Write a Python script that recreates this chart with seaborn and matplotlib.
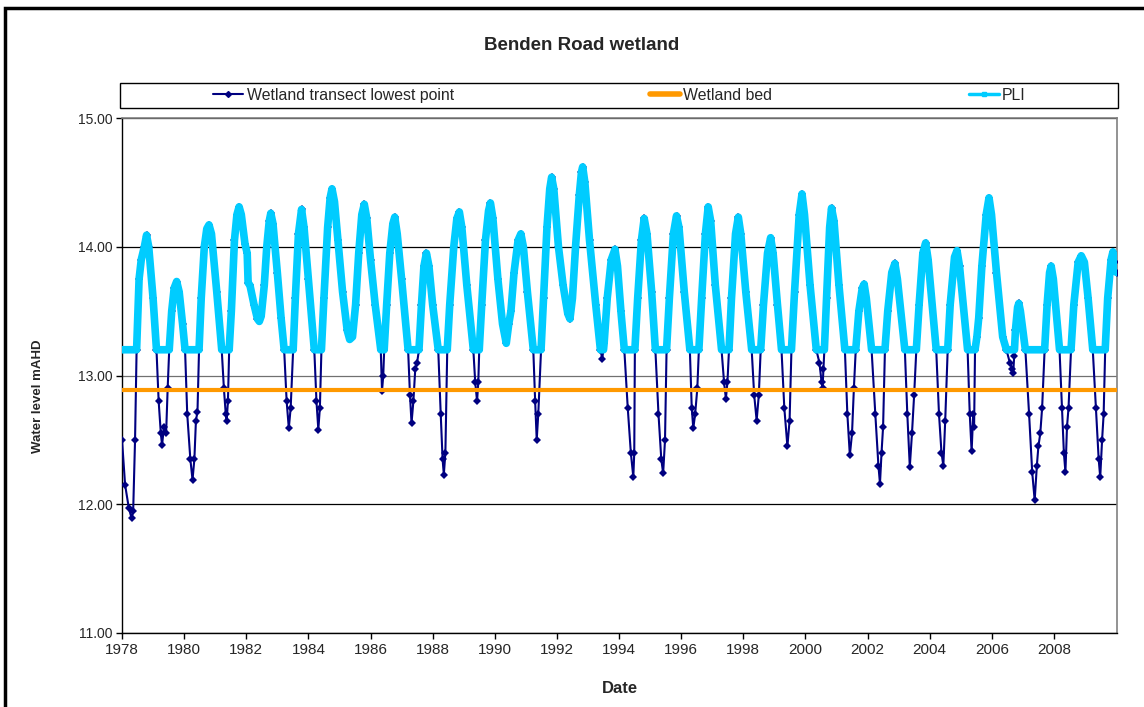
import numpy as np
import pandas as pd
import seaborn as sns
import matplotlib.pyplot as plt
from matplotlib.lines import Line2D
from matplotlib.patches import Rectangle
from matplotlib.ticker import FormatStrFormatter

# Wetland transect lowest point (decimal year, mAHD)
level_points = [
    (1978.00, 12.50), (1978.10, 12.15), (1978.22, 11.97), (1978.31, 11.89), (1978.36, 11.95), (1978.42, 12.50),
    (1978.47, 13.20), (1978.55, 13.75), (1978.62, 13.90), (1978.72, 14.00), (1978.79, 14.09), (1978.86, 14.00), (1979.00, 13.60),
    (1979.11, 13.20), (1979.18, 12.80), (1979.25, 12.55), (1979.29, 12.46), (1979.35, 12.60), (1979.42, 12.55), (1979.47, 12.90),
    (1979.52, 13.20), (1979.60, 13.50), (1979.68, 13.68), (1979.76, 13.73), (1979.84, 13.65), (1979.95, 13.40),
    (1980.03, 13.20), (1980.10, 12.70), (1980.20, 12.35), (1980.27, 12.19), (1980.33, 12.35), (1980.38, 12.65), (1980.43, 12.72),
    (1980.48, 13.20), (1980.55, 13.60), (1980.65, 14.00), (1980.73, 14.14), (1980.80, 14.17), (1980.88, 14.10), (1981.05, 13.65),
    (1981.21, 13.20), (1981.28, 12.90), (1981.34, 12.70), (1981.37, 12.65), (1981.41, 12.80),
    (1981.45, 13.20), (1981.52, 13.50), (1981.62, 14.05), (1981.70, 14.25), (1981.77, 14.31), (1981.84, 14.25), (1981.96, 14.02),
    (1982.03, 13.95), (1982.06, 13.72), (1982.12, 13.70), (1982.25, 13.55), (1982.36, 13.44), (1982.42, 13.42), (1982.48, 13.46),
    (1982.58, 13.70), (1982.66, 14.00), (1982.74, 14.20), (1982.79, 14.26), (1982.86, 14.18), (1983.00, 13.80), (1983.12, 13.45),
    (1983.22, 13.20), (1983.30, 12.80), (1983.37, 12.59), (1983.43, 12.75),
    (1983.51, 13.20), (1983.58, 13.60), (1983.68, 14.10), (1983.78, 14.29), (1983.86, 14.15), (1984.00, 13.75),
    (1984.19, 13.20), (1984.26, 12.80), (1984.32, 12.58), (1984.37, 12.75),
    (1984.42, 13.20), (1984.50, 13.60), (1984.62, 14.15), (1984.70, 14.38), (1984.76, 14.45), (1984.84, 14.35), (1984.95, 14.05),
    (1985.10, 13.65), (1985.25, 13.35), (1985.33, 13.28), (1985.42, 13.30), (1985.52, 13.55), (1985.62, 13.95), (1985.72, 14.25),
    (1985.80, 14.33), (1985.88, 14.22), (1986.00, 13.90), (1986.15, 13.55),
    (1986.33, 13.20), (1986.37, 12.88), (1986.41, 13.00),
    (1986.44, 13.20), (1986.52, 13.55), (1986.62, 13.95), (1986.72, 14.18), (1986.78, 14.23), (1986.86, 14.10), (1987.00, 13.75),
    (1987.21, 13.20), (1987.27, 12.85), (1987.32, 12.63), (1987.38, 12.80), (1987.44, 13.05), (1987.50, 13.10),
    (1987.56, 13.20), (1987.64, 13.55), (1987.72, 13.85), (1987.80, 13.95), (1987.88, 13.85), (1988.00, 13.55),
    (1988.18, 13.20), (1988.26, 12.70), (1988.32, 12.35), (1988.36, 12.23), (1988.41, 12.40),
    (1988.47, 13.20), (1988.55, 13.55), (1988.68, 14.00), (1988.78, 14.22), (1988.86, 14.27), (1988.94, 14.15), (1989.10, 13.70),
    (1989.31, 13.20), (1989.37, 12.95), (1989.43, 12.80), (1989.47, 12.95),
    (1989.50, 13.20), (1989.58, 13.55), (1989.70, 14.05), (1989.80, 14.28), (1989.86, 14.34), (1989.94, 14.22), (1990.10, 13.75),
    (1990.25, 13.40), (1990.37, 13.25), (1990.45, 13.40), (1990.52, 13.50), (1990.62, 13.80), (1990.75, 14.05), (1990.84, 14.10),
    (1990.92, 14.00), (1991.05, 13.65),
    (1991.24, 13.20), (1991.30, 12.80), (1991.35, 12.50), (1991.40, 12.70),
    (1991.49, 13.20), (1991.57, 13.60), (1991.68, 14.15), (1991.77, 14.45), (1991.83, 14.54), (1991.90, 14.45), (1992.05, 14.00),
    (1992.20, 13.70), (1992.35, 13.48), (1992.42, 13.44), (1992.50, 13.60), (1992.60, 14.00), (1992.72, 14.40), (1992.79, 14.58),
    (1992.83, 14.62), (1992.90, 14.50), (1993.05, 14.05), (1993.25, 13.55),
    (1993.40, 13.20), (1993.46, 13.13),
    (1993.52, 13.25), (1993.62, 13.60), (1993.75, 13.90), (1993.87, 13.98), (1993.95, 13.85), (1994.06, 13.50),
    (1994.17, 13.20), (1994.28, 12.75), (1994.38, 12.40), (1994.46, 12.21), (1994.49, 12.40),
    (1994.51, 13.20), (1994.60, 13.60), (1994.72, 14.05), (1994.81, 14.22), (1994.90, 14.10), (1995.05, 13.65),
    (1995.17, 13.20), (1995.27, 12.70), (1995.36, 12.35), (1995.42, 12.24), (1995.48, 12.50),
    (1995.53, 13.20), (1995.62, 13.60), (1995.75, 14.10), (1995.85, 14.24), (1995.93, 14.15), (1996.10, 13.65),
    (1996.28, 13.20), (1996.34, 12.75), (1996.39, 12.59), (1996.45, 12.70), (1996.52, 12.90),
    (1996.57, 13.20), (1996.66, 13.60), (1996.78, 14.10), (1996.87, 14.31), (1996.95, 14.20), (1997.10, 13.70),
    (1997.30, 13.20), (1997.38, 12.95), (1997.44, 12.82), (1997.49, 12.95),
    (1997.54, 13.20), (1997.62, 13.60), (1997.75, 14.10), (1997.84, 14.23), (1997.92, 14.10), (1998.08, 13.65),
    (1998.27, 13.20), (1998.35, 12.85), (1998.43, 12.65), (1998.50, 12.85),
    (1998.56, 13.20), (1998.65, 13.55), (1998.78, 13.95), (1998.88, 14.07), (1998.96, 13.95), (1999.10, 13.55),
    (1999.23, 13.20), (1999.32, 12.75), (1999.42, 12.45), (1999.49, 12.65),
    (1999.55, 13.20), (1999.65, 13.65), (1999.80, 14.25), (1999.89, 14.41), (1999.97, 14.25), (2000.15, 13.70),
    (2000.35, 13.20), (2000.45, 13.10), (2000.52, 12.95), (2000.55, 12.90), (2000.58, 13.05),
    (2000.61, 13.20), (2000.68, 13.60), (2000.78, 14.15), (2000.84, 14.30), (2000.92, 14.20), (2001.08, 13.70),
    (2001.27, 13.20), (2001.35, 12.70), (2001.43, 12.38), (2001.50, 12.55), (2001.56, 12.90),
    (2001.62, 13.20), (2001.72, 13.50), (2001.83, 13.68), (2001.89, 13.71), (2001.96, 13.60),
    (2002.13, 13.20), (2002.25, 12.70), (2002.35, 12.30), (2002.40, 12.16), (2002.45, 12.40), (2002.50, 12.60),
    (2002.56, 13.20), (2002.65, 13.50), (2002.78, 13.80), (2002.88, 13.87), (2002.96, 13.75),
    (2003.20, 13.20), (2003.28, 12.70), (2003.36, 12.29), (2003.43, 12.55), (2003.50, 12.85),
    (2003.57, 13.20), (2003.66, 13.55), (2003.78, 13.95), (2003.87, 14.03), (2003.95, 13.90),
    (2004.21, 13.20), (2004.30, 12.70), (2004.38, 12.40), (2004.44, 12.30), (2004.50, 12.65),
    (2004.58, 13.20), (2004.66, 13.55), (2004.80, 13.92), (2004.88, 13.97), (2004.96, 13.85),
    (2005.22, 13.20), (2005.29, 12.70), (2005.35, 12.41), (2005.40, 12.70), (2005.43, 12.60),
    (2005.46, 13.20), (2005.52, 13.30), (2005.58, 13.45), (2005.68, 13.85), (2005.82, 14.25), (2005.91, 14.38), (2005.99, 14.25),
    (2006.15, 13.80), (2006.35, 13.30),
    (2006.47, 13.20), (2006.58, 13.10), (2006.66, 13.05), (2006.69, 13.02), (2006.72, 13.15),
    (2006.76, 13.35), (2006.83, 13.53), (2006.87, 13.56), (2006.92, 13.50),
    (2007.08, 13.20), (2007.20, 12.70), (2007.30, 12.25), (2007.38, 12.03), (2007.45, 12.30), (2007.50, 12.45), (2007.56, 12.55),
    (2007.62, 12.75),
    (2007.70, 13.20), (2007.78, 13.55), (2007.86, 13.80), (2007.91, 13.85), (2007.98, 13.75),
    (2008.18, 13.20), (2008.26, 12.75), (2008.32, 12.40), (2008.37, 12.25), (2008.42, 12.60), (2008.47, 12.75),
    (2008.55, 13.20), (2008.64, 13.55), (2008.78, 13.88), (2008.88, 13.93), (2008.98, 13.88), (2009.10, 13.60),
    (2009.25, 13.20), (2009.35, 12.75), (2009.44, 12.35), (2009.49, 12.21), (2009.55, 12.50), (2009.60, 12.70),
    (2009.65, 13.20), (2009.73, 13.60), (2009.84, 13.90), (2009.90, 13.96), (2009.96, 13.88), (2010.02, 13.80),
]

# PLI (decimal year, mAHD) - sits flat at 13.20 through the dry months
pli_points = [
    (1978.00, 13.20),
    (1978.47, 13.20), (1978.55, 13.75), (1978.62, 13.90), (1978.72, 14.00), (1978.79, 14.09), (1978.86, 14.00), (1979.00, 13.60),
    (1979.11, 13.20),
    (1979.52, 13.20), (1979.60, 13.50), (1979.68, 13.68), (1979.76, 13.73), (1979.84, 13.65), (1979.95, 13.40),
    (1980.03, 13.20),
    (1980.48, 13.20), (1980.55, 13.60), (1980.65, 14.00), (1980.73, 14.14), (1980.80, 14.17), (1980.88, 14.10), (1981.05, 13.65),
    (1981.21, 13.20),
    (1981.45, 13.20), (1981.52, 13.50), (1981.62, 14.05), (1981.70, 14.25), (1981.77, 14.31), (1981.84, 14.25), (1981.96, 14.02),
    (1982.03, 13.95), (1982.06, 13.72), (1982.12, 13.70), (1982.25, 13.55), (1982.36, 13.44), (1982.42, 13.42), (1982.48, 13.46),
    (1982.58, 13.70), (1982.66, 14.00), (1982.74, 14.20), (1982.79, 14.26), (1982.86, 14.18), (1983.00, 13.80), (1983.12, 13.45),
    (1983.22, 13.20),
    (1983.51, 13.20), (1983.58, 13.60), (1983.68, 14.10), (1983.78, 14.29), (1983.86, 14.15), (1984.00, 13.75),
    (1984.19, 13.20),
    (1984.42, 13.20), (1984.50, 13.60), (1984.62, 14.15), (1984.70, 14.38), (1984.76, 14.45), (1984.84, 14.35), (1984.95, 14.05),
    (1985.10, 13.65), (1985.25, 13.35), (1985.33, 13.28), (1985.42, 13.30), (1985.52, 13.55), (1985.62, 13.95), (1985.72, 14.25),
    (1985.80, 14.33), (1985.88, 14.22), (1986.00, 13.90), (1986.15, 13.55),
    (1986.33, 13.20),
    (1986.44, 13.20), (1986.52, 13.55), (1986.62, 13.95), (1986.72, 14.18), (1986.78, 14.23), (1986.86, 14.10), (1987.00, 13.75),
    (1987.21, 13.20),
    (1987.56, 13.20), (1987.64, 13.55), (1987.72, 13.85), (1987.80, 13.95), (1987.88, 13.85), (1988.00, 13.55),
    (1988.18, 13.20),
    (1988.47, 13.20), (1988.55, 13.55), (1988.68, 14.00), (1988.78, 14.22), (1988.86, 14.27), (1988.94, 14.15), (1989.10, 13.70),
    (1989.31, 13.20),
    (1989.50, 13.20), (1989.58, 13.55), (1989.70, 14.05), (1989.80, 14.28), (1989.86, 14.34), (1989.94, 14.22), (1990.10, 13.75),
    (1990.25, 13.40), (1990.37, 13.25), (1990.45, 13.40), (1990.52, 13.50), (1990.62, 13.80), (1990.75, 14.05), (1990.84, 14.10),
    (1990.92, 14.00), (1991.05, 13.65),
    (1991.24, 13.20),
    (1991.49, 13.20), (1991.57, 13.60), (1991.68, 14.15), (1991.77, 14.45), (1991.83, 14.54), (1991.90, 14.45), (1992.05, 14.00),
    (1992.20, 13.70), (1992.35, 13.48), (1992.42, 13.44), (1992.50, 13.60), (1992.60, 14.00), (1992.72, 14.40), (1992.79, 14.58),
    (1992.83, 14.62), (1992.90, 14.50), (1993.05, 14.05), (1993.25, 13.55),
    (1993.40, 13.20), (1993.50, 13.20),
    (1993.52, 13.25), (1993.62, 13.60), (1993.75, 13.90), (1993.87, 13.98), (1993.95, 13.85), (1994.06, 13.50),
    (1994.17, 13.20),
    (1994.51, 13.20), (1994.60, 13.60), (1994.72, 14.05), (1994.81, 14.22), (1994.90, 14.10), (1995.05, 13.65),
    (1995.17, 13.20),
    (1995.53, 13.20), (1995.62, 13.60), (1995.75, 14.10), (1995.85, 14.24), (1995.93, 14.15), (1996.10, 13.65),
    (1996.28, 13.20),
    (1996.57, 13.20), (1996.66, 13.60), (1996.78, 14.10), (1996.87, 14.31), (1996.95, 14.20), (1997.10, 13.70),
    (1997.30, 13.20),
    (1997.54, 13.20), (1997.62, 13.60), (1997.75, 14.10), (1997.84, 14.23), (1997.92, 14.10), (1998.08, 13.65),
    (1998.27, 13.20),
    (1998.56, 13.20), (1998.65, 13.55), (1998.78, 13.95), (1998.88, 14.07), (1998.96, 13.95), (1999.10, 13.55),
    (1999.23, 13.20),
    (1999.55, 13.20), (1999.65, 13.65), (1999.80, 14.25), (1999.89, 14.41), (1999.97, 14.25), (2000.15, 13.70),
    (2000.35, 13.20),
    (2000.61, 13.20), (2000.68, 13.60), (2000.78, 14.15), (2000.84, 14.30), (2000.92, 14.20), (2001.08, 13.70),
    (2001.27, 13.20),
    (2001.62, 13.20), (2001.72, 13.50), (2001.83, 13.68), (2001.89, 13.71), (2001.96, 13.60),
    (2002.13, 13.20),
    (2002.56, 13.20), (2002.65, 13.50), (2002.78, 13.80), (2002.88, 13.87), (2002.96, 13.75),
    (2003.20, 13.20),
    (2003.57, 13.20), (2003.66, 13.55), (2003.78, 13.95), (2003.87, 14.03), (2003.95, 13.90),
    (2004.21, 13.20),
    (2004.58, 13.20), (2004.66, 13.55), (2004.80, 13.92), (2004.88, 13.97), (2004.96, 13.85),
    (2005.22, 13.20),
    (2005.46, 13.20), (2005.52, 13.30), (2005.58, 13.45), (2005.68, 13.85), (2005.82, 14.25), (2005.91, 14.38), (2005.99, 14.25),
    (2006.15, 13.80), (2006.35, 13.30),
    (2006.47, 13.20), (2006.73, 13.20),
    (2006.76, 13.35), (2006.83, 13.53), (2006.87, 13.56), (2006.92, 13.50),
    (2007.08, 13.20),
    (2007.70, 13.20), (2007.78, 13.55), (2007.86, 13.80), (2007.91, 13.85), (2007.98, 13.75),
    (2008.18, 13.20),
    (2008.55, 13.20), (2008.64, 13.55), (2008.78, 13.88), (2008.88, 13.93), (2008.98, 13.88), (2009.10, 13.60),
    (2009.25, 13.20),
    (2009.65, 13.20), (2009.73, 13.60), (2009.84, 13.90), (2009.90, 13.96), (2009.96, 13.88), (2010.02, 13.80),
]

bed_years = [1978.0, 2010.02]
bed_level = [12.89, 12.89]

year_ticks = list(range(1978, 2009, 2))
level_ticks = [11, 12, 13, 14, 15]

NAVY = '#000080'
ORANGE = '#FF9900'
SKY = '#00CCFF'

sns.set_style("ticks")
plt.rcParams['font.family'] = ['Liberation Sans', 'DejaVu Sans']

level = pd.DataFrame(level_points, columns=['year', 'level'])
pli = pd.DataFrame(pli_points, columns=['year', 'level'])
bed = pd.DataFrame({'year': bed_years, 'level': bed_level})

W, H = 1144, 707
fig = plt.figure(figsize=(W / 100, H / 100), dpi=100)
ax = fig.add_axes([122 / W, 1 - 633 / H, 995 / W, 515 / H])

sns.lineplot(data=level, x='year', y='level', ax=ax, estimator=None, sort=False,
             color=NAVY, lw=1.5, marker='D', markersize=3.6, markeredgewidth=0, zorder=3)
sns.lineplot(data=bed, x='year', y='level', ax=ax, estimator=None, sort=False,
             color=ORANGE, lw=3, zorder=4)
sns.lineplot(data=pli, x='year', y='level', ax=ax, estimator=None, sort=False,
             color=SKY, lw=5.5, zorder=5, solid_joinstyle='round', solid_capstyle='round')

ax.set_xlim(1978, 2010.03)
ax.set_ylim(11, 15)
ax.set_xticks(year_ticks)
ax.set_yticks(level_ticks)
ax.yaxis.set_major_formatter(FormatStrFormatter('%.2f'))
ax.set_axisbelow(True)
ax.yaxis.grid(True, color='black', lw=0.9)
ax.xaxis.grid(False)
ax.get_ygridlines()[2].set_color('#707070')
ax.tick_params(axis='both', direction='out', length=4, width=1, color='black')
ax.tick_params(axis='x', labelsize=11, pad=3)
ax.tick_params(axis='y', labelsize=10, pad=3)

for side in ['left', 'bottom']:
    ax.spines[side].set_color('black')
    ax.spines[side].set_linewidth(1)
for side in ['top', 'right']:
    ax.spines[side].set_visible(True)
    ax.spines[side].set_color('#808080')
    ax.spines[side].set_linewidth(1.2)

ax.set_xlabel('Date', fontsize=12, fontweight='bold')
ax.xaxis.set_label_coords(0.5005, -0.093)
ax.set_ylabel('Water level mAHD', fontsize=9.5, fontweight='bold')
ax.yaxis.set_label_coords(-0.078, 0.46)

fig.text(582 / W, 1 - 45 / H, 'Benden Road wetland', ha='center', va='center',
         fontsize=13.5, fontweight='bold')

handles = [
    Line2D([], [], color=NAVY, lw=1.5, marker='D', markersize=3),
    Line2D([], [], color=ORANGE, lw=4),
    Line2D([], [], color=SKY, lw=2.5, marker='s', markersize=3),
]
labels = ['Wetland transect lowest point', 'Wetland bed', 'PLI']
fig.legend(handles, labels, loc='center', bbox_to_anchor=(619.5 / W, 1 - 95.5 / H), ncol=3,
           frameon=False, fontsize=11.4, handlelength=1.9, handletextpad=0.2, columnspacing=12.4)

# legend box and outer chart border
fig.add_artist(Rectangle((120 / W, 1 - 108 / H), 998 / W, 25 / H, transform=fig.transFigure,
                         fill=False, ec='black', lw=1))
fig.add_artist(Rectangle((5 / W, -0.1), 1.2, 1.1 - 8 / H, transform=fig.transFigure,
                         fill=False, ec='black', lw=2.5))

fig.savefig('out.png', dpi=100)
